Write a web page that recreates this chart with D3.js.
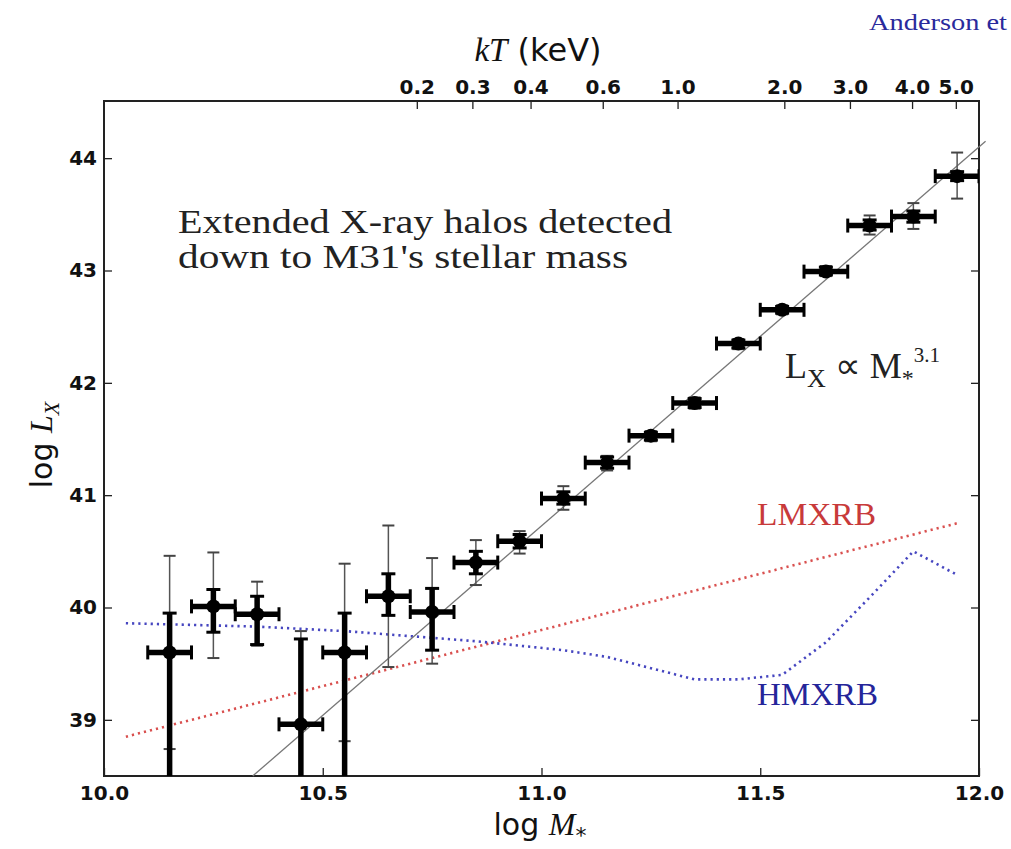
<!DOCTYPE html>
<html>
<head>
<meta charset="utf-8">
<script src="https://cdn.jsdelivr.net/npm/d3@7"></script>
<style>
  body { margin: 0; background: #fff; }
  svg { display: block; }
</style>
</head>
<body>
<script>
const width = 1011
const height = 849

// binned points (log M*, log Lx) with thick (stat) and thin (total) error ranges
const logMass = [10.15, 10.25, 10.35, 10.45, 10.55, 10.65, 10.75, 10.85, 10.95, 11.05, 11.15, 11.25, 11.35, 11.45, 11.55, 11.65, 11.75, 11.85, 11.95]
const logLx   = [39.60, 40.01, 39.94, 38.96, 39.60, 40.10, 39.96, 40.40, 40.59, 40.97, 41.29, 41.53, 41.82, 42.35, 42.65, 42.99, 43.40, 43.48, 43.84]
const statHi  = [39.95, 40.16, 40.10, 39.72, 39.95, 40.30, 40.17, 40.50, 40.65, 41.03, 41.34, 41.56, 41.86, 42.38, 42.68, 43.03, 43.45, 43.53, 43.88]
const statLo  = [37.50, 39.78, 39.67, 37.50, 37.50, 39.93, 39.62, 40.30, 40.53, 40.92, 41.24, 41.49, 41.78, 42.31, 42.62, 42.96, 43.36, 43.43, 43.80]
const sysHi   = [40.46, 40.49, 40.23, 39.79, 40.39, 40.73, 40.44, 40.60, 40.68, 41.08, 41.35, 41.57, 41.87, 42.39, 42.69, 43.04, 43.49, 43.60, 44.05]
const sysLo   = [38.74, 39.55, 39.66, 37.50, 38.81, 39.47, 39.50, 40.20, 40.48, 40.87, 41.22, 41.48, 41.77, 42.30, 42.61, 42.95, 43.32, 43.37, 43.64]
const binHalf = 0.05

// power-law fit
const fitMass = [10.34, 12.015]
const fitLx   = [38.5, 44.15]

// X-ray binary contributions
const lmxbMass = [10.05, 10.5, 11.0, 11.5, 11.95]
const lmxbLx   = [38.85, 39.30, 39.80, 40.30, 40.75]
const hmxbMass = [10.05, 10.35, 10.55, 10.75, 10.85, 11.05, 11.15, 11.25, 11.35, 11.45, 11.55, 11.65, 11.75, 11.85, 11.95]
const hmxbLx   = [39.86, 39.83, 39.79, 39.73, 39.70, 39.62, 39.56, 39.46, 39.36, 39.36, 39.40, 39.69, 40.09, 40.50, 40.29]

// axis ticks
const massTicks = [10.0, 10.5, 11.0, 11.5, 12.0]
const lxTicks = [39, 40, 41, 42, 43, 44]
const kTLabels = ['0.2', '0.3', '0.4', '0.6', '1.0', '2.0', '3.0', '4.0', '5.0']
const kTAtMass = [10.715, 10.842, 10.975, 11.14, 11.311, 11.555, 11.705, 11.847, 11.947]

const plotL = 104, plotR = 979, plotT = 101, plotB = 776

const svg = d3.select('body')
        .append('svg')
        .attr('width', width)
        .attr('height', height)

const x = d3.scaleLinear().domain([10, 12]).range([plotL, plotR])
const y = d3.scaleLinear().domain([38.5, 44.5]).range([plotB, plotT + 1])

svg.append('defs').append('clipPath')
        .attr('id', 'plot-clip')
        .append('rect')
        .attr('x', plotL).attr('y', plotT)
        .attr('width', plotR - plotL).attr('height', plotB - plotT)

const tickFont = g => g.selectAll('text')
        .attr('font-family', 'DejaVu Sans')
        .attr('font-weight', 'bold')
        .attr('font-size', '20px')
        .attr('fill', '#111')

const tidy = g => {
    g.select('.domain').remove()
    g.selectAll('line').attr('stroke', '#222').attr('stroke-width', 1.3)
}

// axes
svg.append('g')
        .attr('transform', `translate(0,${plotB})`)
        .call(d3.axisBottom(x).tickValues(massTicks).tickFormat(d3.format('.1f')).tickSizeInner(-8).tickSizeOuter(0).tickPadding(10))
        .call(tidy).call(tickFont)

svg.append('g')
        .attr('transform', `translate(${plotL},0)`)
        .call(d3.axisLeft(y).tickValues(lxTicks).tickFormat(d3.format('d')).tickSizeInner(-8).tickSizeOuter(0).tickPadding(7))
        .call(tidy).call(tickFont)

svg.append('g')
        .attr('transform', `translate(${plotR},0)`)
        .call(d3.axisRight(y).tickValues(lxTicks).tickFormat('').tickSizeInner(-8).tickSizeOuter(0))
        .call(tidy)

svg.append('g')
        .attr('transform', `translate(0,${plotT})`)
        .call(d3.axisTop(x).tickValues(kTAtMass).tickFormat((d, i) => kTLabels[i]).tickSizeInner(-8).tickSizeOuter(0).tickPadding(7))
        .call(tidy).call(tickFont)

// frame
svg.append('rect')
        .attr('x', plotL).attr('y', plotT)
        .attr('width', plotR - plotL).attr('height', plotB - plotT)
        .attr('fill', 'none')
        .attr('stroke', '#222')
        .attr('stroke-width', 2)

// XRB curves
const line = d3.line().x(d => x(d[0])).y(d => y(d[1]))

svg.append('path')
        .attr('d', line(d3.zip(lmxbMass, lmxbLx)))
        .attr('fill', 'none')
        .attr('stroke', '#d9504f')
        .attr('stroke-width', 2.6)
        .attr('stroke-dasharray', '2.2,4')

svg.append('path')
        .attr('d', line(d3.zip(hmxbMass, hmxbLx)))
        .attr('fill', 'none')
        .attr('stroke', '#4646c0')
        .attr('stroke-width', 2.6)
        .attr('stroke-dasharray', '2.2,4')

// fit line
svg.append('path')
        .attr('d', line(d3.zip(fitMass, fitLx)))
        .attr('fill', 'none')
        .attr('stroke', '#777')
        .attr('stroke-width', 1.3)

// points with error bars
const pts = logMass.map((m, i) => ({ m, l: logLx[i], sh: sysHi[i], sl: sysLo[i], th: statHi[i], tl: statLo[i] }))

const marks = svg.append('g').attr('clip-path', 'url(#plot-clip)')

const seg = (g, x1, y1, x2, y2, w, c) => g.append('line')
        .attr('x1', x1).attr('y1', y1).attr('x2', x2).attr('y2', y2)
        .attr('stroke', c).attr('stroke-width', w)

pts.forEach(d => {
    const g = marks.append('g')
    const cx = x(d.m), cy = y(d.l)
    // thin bar
    seg(g, cx, y(d.sl), cx, y(d.sh), 1.5, '#555')
    seg(g, cx - 6, y(d.sh), cx + 6, y(d.sh), 2, '#444')
    seg(g, cx - 6, y(d.sl), cx + 6, y(d.sl), 2, '#444')
    // thick bar
    seg(g, cx, y(d.tl), cx, y(d.th), 5.5, '#000')
    seg(g, cx - 7, y(d.th), cx + 7, y(d.th), 3, '#000')
    seg(g, cx - 7, y(d.tl), cx + 7, y(d.tl), 3, '#000')
    // horizontal bar
    const x0 = x(d.m - binHalf), x1 = x(d.m + binHalf)
    seg(g, x0, cy, x1, cy, 5.5, '#000')
    seg(g, x0, cy - 7, x0, cy + 7, 3, '#000')
    seg(g, x1, cy - 7, x1, cy + 7, 3, '#000')
    g.append('circle').attr('cx', cx).attr('cy', cy).attr('r', 7).attr('fill', '#000')
})

// annotations
const serif = 'Liberation Serif'

const note = (txt, tx, ty, len, color, size) => svg.append('text')
        .text(txt)
        .attr('x', tx).attr('y', ty)
        .attr('font-family', serif)
        .attr('font-size', size + 'px')
        .attr('fill', color)
        .attr('textLength', len)
        .attr('lengthAdjust', 'spacingAndGlyphs')

note('Extended X-ray halos detected', 178, 233, 494, '#222', 33)
note("down to M31's stellar mass", 178, 268, 450, '#222', 33)
note('LMXRB', 757, 525, 119, '#c83a3a', 32)
note('HMXRB', 757, 705, 121, '#25259a', 32)
note('Anderson et', 869, 30, 138, '#2a2a9c', 24)

const law = svg.append('text')
        .attr('x', 785).attr('y', 378)
        .attr('font-family', serif)
        .attr('font-size', '36px')
        .attr('fill', '#222')
law.append('tspan').text('L')
law.append('tspan').text('X').attr('font-size', '26px').attr('dy', 9)
law.append('tspan').text(' ∝ M').attr('dy', -9)
law.append('tspan').text('*').attr('font-size', '24px').attr('dy', 8)
law.append('tspan').text('3.1').attr('font-size', '21px').attr('dy', -24)

// axis titles
const topTitle = svg.append('text')
        .attr('x', 538).attr('y', 61)
        .attr('text-anchor', 'middle')
        .attr('font-family', 'DejaVu Sans')
        .attr('font-size', '32px')
        .attr('fill', '#111')
topTitle.append('tspan').text('kT').attr('font-family', serif).attr('font-style', 'italic').attr('font-size', '33px')
topTitle.append('tspan').text(' (keV)')

const xTitle = svg.append('text')
        .attr('x', 540).attr('y', 835)
        .attr('text-anchor', 'middle')
        .attr('font-family', 'DejaVu Sans')
        .attr('font-size', '30px')
        .attr('fill', '#111')
xTitle.append('tspan').text('log ')
xTitle.append('tspan').text('M').attr('font-family', serif).attr('font-style', 'italic').attr('font-size', '32px')
xTitle.append('tspan').text('*').attr('font-size', '22px').attr('dy', 8)

const yTitle = svg.append('text')
        .attr('transform', 'translate(52,445) rotate(-90)')
        .attr('text-anchor', 'middle')
        .attr('font-family', 'DejaVu Sans')
        .attr('font-size', '30px')
        .attr('fill', '#111')
yTitle.append('tspan').text('log ')
yTitle.append('tspan').text('L').attr('font-family', serif).attr('font-style', 'italic').attr('font-size', '32px')
yTitle.append('tspan').text('X').attr('font-family', serif).attr('font-style', 'italic').attr('font-size', '22px').attr('dy', 7)
</script>
</body>
</html>
